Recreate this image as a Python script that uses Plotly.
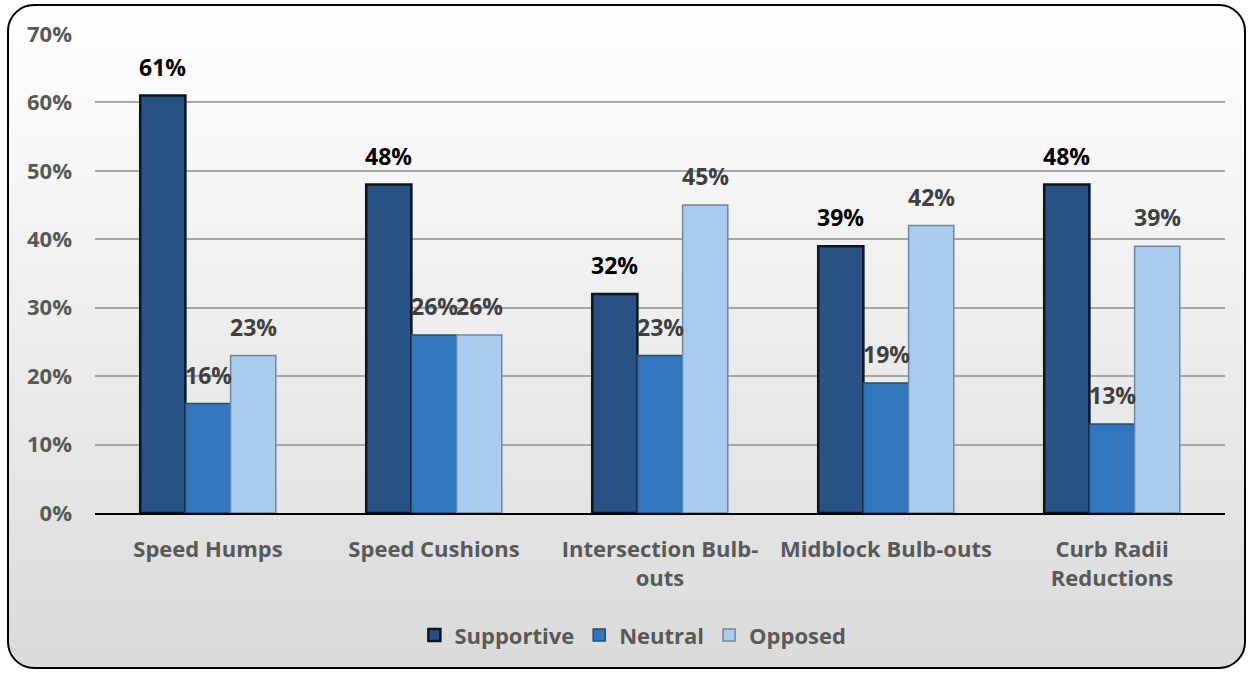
import base64
import plotly.graph_objects as go

categories = ["Speed Humps", "Speed Cushions", "Intersection Bulb-<br>outs", "Midblock Bulb-outs", "Curb Radii<br>Reductions"]
series_names = ["Supportive", "Neutral", "Opposed"]
supportive = [61, 48, 32, 39, 48]
neutral = [16, 26, 23, 19, 13]
opposed = [23, 26, 45, 42, 39]
y_ticks = [0, 10, 20, 30, 40, 50, 60, 70]

values = [supportive, neutral, opposed]
fills = ["#285283", "#3176be", "#a9cbee"]
edges = ["#0b1622", "#1f4e79", "#6f87a3"]
edge_w = [2.5, 1.5, 1.5]
label_colors = ["#000000", "#404040", "#404040"]

W, H = 1253, 673
ml, mr, mt, mb = 95, 28, 34, 160
pw, ph = W - ml - mr, H - mt - mb

FONT = "Open Sans"
FS = 22
fig = go.Figure()
n = len(categories)
bw = 0.2
x_idx = list(range(n))
for j, (name, vals) in enumerate(zip(series_names, values)):
    fig.add_trace(go.Bar(
        name=f"<b>{name}</b>", x=x_idx, y=vals,
        marker=dict(color=fills[j], line=dict(color=edges[j], width=edge_w[j])),
        hoverinfo="skip",
    ))
    for i, v in enumerate(vals):
        fig.add_annotation(
            x=i + (j - 1) * bw, y=v, xref="x", yref="y",
            text=f"<b>{v}%</b>", showarrow=False, yanchor="bottom", yshift=11,
            font=dict(family=FONT, size=23, color=label_colors[j]),
        )

svg = (f'<svg xmlns="http://www.w3.org/2000/svg" width="{W}" height="{H}">'
       '<defs><linearGradient id="g" x1="0" y1="0" x2="0" y2="1">'
       '<stop offset="0" stop-color="#ffffff"/><stop offset="1" stop-color="#dadada"/>'
       '</linearGradient></defs>'
       f'<rect x="8" y="5" width="{W-16}" height="{H-10}" rx="26" ry="26" fill="url(#g)" stroke="#000" stroke-width="2"/></svg>')
src = "data:image/svg+xml;base64," + base64.b64encode(svg.encode()).decode()

fig.update_layout(
    width=W, height=H,
    margin=dict(l=ml, r=mr, t=mt, b=mb, pad=0),
    paper_bgcolor="#ffffff", plot_bgcolor="rgba(0,0,0,0)",
    barmode="group", bargap=0.4, bargroupgap=0,
    font=dict(family=FONT, size=FS, color="#595959"),
    images=[dict(source=src, xref="paper", yref="paper", x=-ml / pw, y=1 + mt / ph,
                 sizex=W / pw, sizey=H / ph, sizing="stretch", xanchor="left", yanchor="top",
                 layer="below")],
    legend=dict(orientation="h", x=0.476, xanchor="center", y=-0.255, yanchor="middle",
                font=dict(family=FONT, size=FS, color="#595959"), bgcolor="rgba(0,0,0,0)",
                itemwidth=30, tracegroupgap=0),
    showlegend=True,
)
fig.update_xaxes(
    range=[-0.5, n - 0.5], tickvals=x_idx, ticktext=[f"<b>{c}</b>" for c in categories],
    showgrid=False, showline=True, linecolor="#000000", linewidth=2,
    ticks="", ticklabelstandoff=16,
    tickfont=dict(family=FONT, size=FS, color="#595959"), zeroline=False,
)
fig.update_yaxes(
    range=[0, 70], tickvals=y_ticks, ticktext=[f"<b>{t}%</b>" for t in y_ticks],
    showgrid=True, gridcolor="#a6a6a6", gridwidth=1.5, zeroline=False, showline=False,
    ticks="", ticklabelstandoff=22,
    tickfont=dict(family=FONT, size=FS, color="#595959"),
)
fig.write_html("out.html", config={"displayModeBar": False},
               post_script="document.body.style.margin='0';")
